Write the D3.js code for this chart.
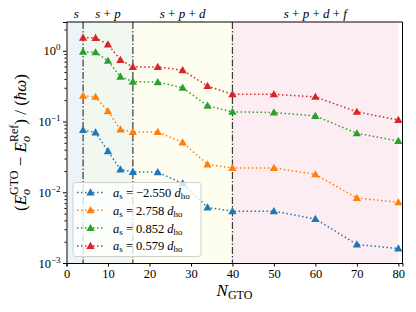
<!DOCTYPE html>
<html>
<head>
<meta charset="utf-8">
<script src="https://cdn.jsdelivr.net/npm/d3@7"></script>
<style>
  body { margin: 0; background: #fff; }
  text { font-family: "Liberation Serif", "DejaVu Serif", serif; fill: #000; }
</style>
</head>
<body>
<div class="chart"></div>
<script>
// basis size and data
var nGto = [4, 7, 10, 13, 16, 22, 28, 34, 40, 50, 60, 70, 80];
var blueVals   = [0.0756, 0.070, 0.038, 0.021, 0.0194, 0.0192, 0.0133, 0.0061, 0.0054, 0.0054, 0.0042, 0.00183, 0.0016];
var orangeVals = [0.231, 0.223, 0.140, 0.077, 0.071, 0.071, 0.0506, 0.0247, 0.0221, 0.0221, 0.0179, 0.0083, 0.0072];
var greenVals  = [0.97, 0.95, 0.72, 0.43, 0.365, 0.36, 0.30, 0.167, 0.137, 0.134, 0.12, 0.068, 0.053];
var redVals    = [1.53, 1.52, 1.23, 0.74, 0.59, 0.59, 0.53, 0.317, 0.242, 0.242, 0.223, 0.137, 0.105];
var seriesVals = [blueVals, orangeVals, greenVals, redVals];
var seriesA = ["\u22122.550", "2.758", "0.852", "0.579"];
var seriesColors = ["#1f77b4", "#ff7f0e", "#2ca02c", "#d62728"];

// shells and their shaded ranges
var shellNames = ["s", "s + p", "s + p + d", "s + p + d + f"];
var shellStart = [0.35, 4, 16, 40];
var shellEnd = [4, 16, 40, 80];
var shellFill = ["#ecf3f9", "#f1f8f0", "#fefef0", "#fcedf2"];
var shellLines = [4, 16, 40];

var xTicks = [0, 10, 20, 30, 40, 50, 60, 70, 80];
var yTickExp = [0, -1, -2, -3];

var svgWidth = 416, svgHeight = 312;
var margin = {top: 22, right: 13.5, bottom: 49, left: 66.5};
var chartWidth = svgWidth - margin.left - margin.right;
var chartHeight = svgHeight - margin.top - margin.bottom;

var svg = d3.select(".chart").append("svg")
  .attr("width", svgWidth)
  .attr("height", svgHeight);

var chartGroup = svg.append("g")
  .attr("transform", `translate(${margin.left}, ${margin.top})`);

var xScale = d3.scaleLinear().domain([0, 81]).range([0, chartWidth]);
var yScale = d3.scaleLog().domain([1e-3, 2.55]).range([chartHeight, 0]);

//shaded shell regions
chartGroup.selectAll("rect.shell")
  .data(shellNames)
  .enter()
  .append("rect")
  .attr("x", (d, i) => xScale(shellStart[i]))
  .attr("width", (d, i) => xScale(shellEnd[i]) - xScale(shellStart[i]))
  .attr("y", 0)
  .attr("height", chartHeight)
  .attr("fill", (d, i) => shellFill[i]);

//dash-dot separators
chartGroup.selectAll("line.sep")
  .data(shellLines)
  .enter()
  .append("line")
  .attr("x1", d => xScale(d)).attr("x2", d => xScale(d))
  .attr("y1", 0).attr("y2", chartHeight)
  .attr("stroke", "#3a3a3a")
  .attr("stroke-width", 1.2)
  .attr("stroke-dasharray", "7,2,1.5,2");

//shell names above the plot
chartGroup.selectAll("text.shell")
  .data(shellNames)
  .enter()
  .append("text")
  .attr("x", (d, i) => xScale((Math.max(shellStart[i], 0) + shellEnd[i]) / 2) + (i == 0 ? 0.8 : 0))
  .attr("y", -4)
  .attr("text-anchor", "middle")
  .attr("font-size", 13)
  .each(function(d) {
    var t = d3.select(this);
    d.split(" ").forEach(function(part) {
      if (part == "+") t.append("tspan").text(" + ");
      else t.append("tspan").attr("font-style", "italic").text(part);
    });
  });

//x axis
var xAxis = chartGroup.append("g")
  .attr("transform", `translate(0, ${chartHeight})`)
  .call(d3.axisBottom(xScale).tickValues(xTicks).tickSize(3.5).tickPadding(3));
xAxis.selectAll("text").attr("font-size", 12.5).attr("font-family", "Liberation Serif");

//y axis, major and minor ticks
var minorTicks = [];
[-3, -2, -1, 0].forEach(function(e) {
  for (var k = 2; k <= 9; k++) {
    var v = k * Math.pow(10, e);
    if (v <= 2.55) minorTicks.push(v);
  }
});
chartGroup.append("g")
  .call(d3.axisLeft(yScale).tickValues(minorTicks).tickSize(2).tickFormat(""))
  .select(".domain").remove();

var yAxis = chartGroup.append("g")
  .call(d3.axisLeft(yScale).tickValues(yTickExp.map(e => Math.pow(10, e))).tickSize(3.5).tickFormat(""));

yAxis.selectAll(".tick").each(function(d) {
  var e = Math.round(Math.log10(d));
  var t = d3.select(this).append("text")
    .attr("x", -6)
    .attr("dy", "0.32em")
    .attr("text-anchor", "end")
    .attr("font-size", 12.5);
  t.append("tspan").text("10");
  t.append("tspan").attr("dy", -5).attr("font-size", 9).text(e == 0 ? "0" : "\u2212" + (-e));
});

//top and right spines
chartGroup.append("line").attr("x1", 0).attr("x2", chartWidth).attr("y1", 0).attr("y2", 0)
  .attr("stroke", "#000").attr("stroke-width", 1);
chartGroup.append("line").attr("x1", chartWidth).attr("x2", chartWidth).attr("y1", 0).attr("y2", chartHeight)
  .attr("stroke", "#000").attr("stroke-width", 1);

//triangle marker
var tri = d3.symbol().type(d3.symbolTriangle).size(30);

var line = d3.line()
  .x((d, i) => xScale(nGto[i]))
  .y(d => yScale(d));

seriesVals.forEach(function(vals, s) {
  chartGroup.append("path")
    .datum(vals)
    .attr("d", line)
    .attr("fill", "none")
    .attr("stroke", seriesColors[s])
    .attr("stroke-width", 1.5)
    .attr("stroke-dasharray", "1.5,2.5");

  chartGroup.selectAll(null)
    .data(vals)
    .enter()
    .append("path")
    .attr("d", tri)
    .attr("transform", (d, i) => `translate(${xScale(nGto[i])}, ${yScale(d) + 0.6})`)
    .attr("fill", seriesColors[s]);
});

//legend
var legend = chartGroup.append("g")
  .attr("transform", "translate(6.5, 160.5)");
legend.append("rect")
  .attr("width", 128).attr("height", 74)
  .attr("rx", 3)
  .attr("fill", "#fff").attr("fill-opacity", 0.8)
  .attr("stroke", "#d0d0d0").attr("stroke-width", 1);

seriesA.forEach(function(a, s) {
  var row = legend.append("g").attr("transform", `translate(0, ${10 + s * 17.8})`);
  row.append("line")
    .attr("x1", 4).attr("x2", 31).attr("y1", 0).attr("y2", 0)
    .attr("stroke", seriesColors[s]).attr("stroke-width", 1.5)
    .attr("stroke-dasharray", "1.5,2.5");
  row.append("path").attr("d", tri).attr("transform", "translate(17.5, 0.6)").attr("fill", seriesColors[s]);
  var t = row.append("text").attr("x", 40).attr("y", 4.5).attr("font-size", 12.5);
  t.append("tspan").attr("font-style", "italic").text("a");
  t.append("tspan").attr("font-size", 9).attr("dy", 2).text("s");
  t.append("tspan").attr("dy", -2).text(" = " + a + " ");
  t.append("tspan").attr("font-style", "italic").text("d");
  t.append("tspan").attr("font-size", 9).attr("dy", 2).text("ho");
});

//axis labels
var xl = svg.append("text")
  .attr("x", margin.left + xScale(40.5))
  .attr("y", 296)
  .attr("text-anchor", "middle")
  .attr("font-size", 17);
xl.append("tspan").attr("font-style", "italic").text("N");
xl.append("tspan").attr("font-size", 12).attr("dy", 3).text("GTO");

var yl = svg.append("text")
  .attr("transform", `translate(26, ${margin.top + chartHeight / 2}) rotate(-90)`)
  .attr("text-anchor", "middle")
  .attr("font-size", 17);
yl.append("tspan").text("(");
yl.append("tspan").attr("font-style", "italic").text("E");
yl.append("tspan").attr("font-size", 12).attr("font-style", "italic").attr("dy", 4).text("o");
yl.append("tspan").attr("font-size", 12).attr("dx", -6).attr("dy", -12).text("GTO");
yl.append("tspan").attr("dy", 8).text(" \u2212 ");
yl.append("tspan").attr("font-style", "italic").text("E");
yl.append("tspan").attr("font-size", 12).attr("font-style", "italic").attr("dy", 4).text("o");
yl.append("tspan").attr("font-size", 12).attr("dx", -6).attr("dy", -12).text("Ref");
yl.append("tspan").attr("dy", 8).text(") / (");
yl.append("tspan").attr("font-style", "italic").text("\u0127\u03c9");
yl.append("tspan").text(")");
</script>
</body>
</html>
